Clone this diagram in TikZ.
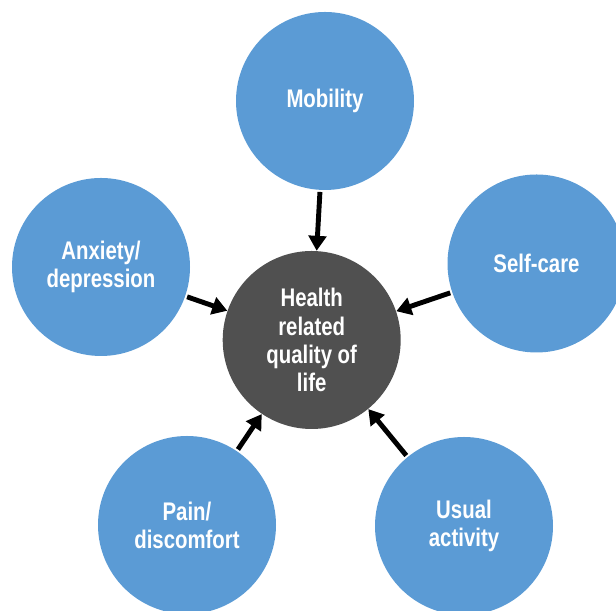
\documentclass[tikz,border=0pt]{standalone}
\usepackage{fontspec}
\setmainfont{Liberation Sans}[FakeStretch=0.8]
\usepackage{tikz}
\usetikzlibrary{arrows.meta}
\definecolor{colordim}{HTML}{5B9BD5}
\definecolor{colorhq}{HTML}{505050}
\tikzset{
  dimnode/.style={circle, fill=colordim, minimum size=3.56cm, inner sep=0pt,
    align=center, text=white, font=\fontsize{14.5}{16}\selectfont\bfseries},
  hqnode/.style={dimnode, fill=colorhq},
  edgedim/.style={black, line width=2.8pt, shorten <=1pt,
    -{Triangle[length=8.5pt,width=10pt]}}
}

\begin{document}
\begin{tikzpicture}
\useasboundingbox (0,0) rectangle (12.32,12.22);
\node[hqnode] (hq) at (6.234,5.42) {Health\\related\\quality of\\life};
\node[dimnode] (mob) at (6.5,10.2) {Mobility};
\node[dimnode] (self) at (10.73,6.95) {Self-care};
\node[dimnode] (usual) at (9.28,1.7) {Usual\\activity};
\node[dimnode] (pain) at (3.74,1.72) {Pain/\\discomfort};
\node[dimnode] (anx) at (2.02,6.88) {Anxiety/\\depression};
\draw[edgedim] (mob) -- (hq);
\draw[edgedim] (self) -- (hq);
\draw[edgedim] (usual) -- (hq);
\draw[edgedim] (pain) -- (hq);
\draw[edgedim] (anx) -- (hq);
\end{tikzpicture}
\end{document}
